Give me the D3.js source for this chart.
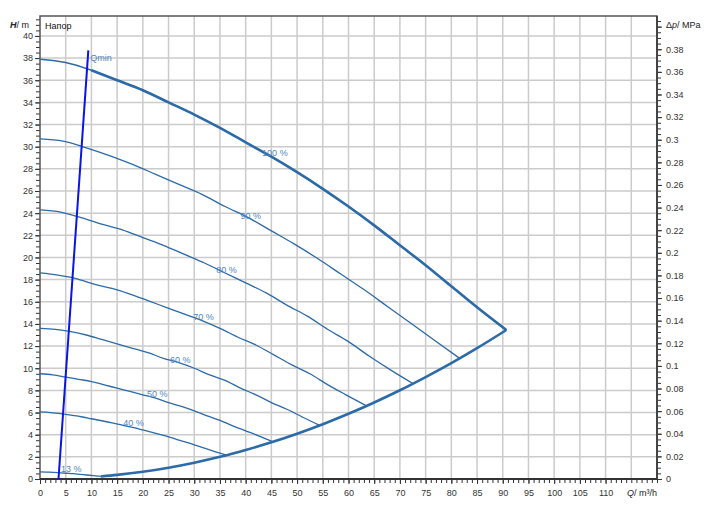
<!DOCTYPE html>
<html>
<head>
<meta charset="utf-8">
<style>
  body { margin: 0; background: #fff; }
  svg { display: block; font-family: "Liberation Sans", Arial, sans-serif; }
</style>
</head>
<body>
<script src="https://cdn.jsdelivr.net/npm/d3@7"></script>
<script>
// pump curves at different speeds, [Q m3/h, H m]
const curve100 = [[0,37.9],[5,37.6],[10,36.9],[15,36.0],[20,35.1],[25,34.0],[30,32.9],[35,31.7],[40,30.4],[45,29.1],
  [50,27.7],[55,26.2],[60,24.6],[65,22.9],[70,21.1],[75,19.3],[80,17.4],[85,15.5],[90.7,13.45]];
const curve90 = [[0,30.7],[4.5,30.5],[9,29.9],[13.5,29.2],[18,28.4],[22.5,27.5],[27,26.6],[31.5,25.7],[36,24.6],[40.5,23.6],
  [45,22.4],[49.5,21.2],[54,19.9],[58.5,18.5],[63,17.1],[67.5,15.6],[72,14.1],[76.5,12.6],[81.6,10.9]];
const curve80 = [[0,24.3],[4,24.1],[8,23.6],[12,23.0],[16,22.5],[20,21.8],[24,21.1],[28,20.3],[32,19.5],[36,18.6],
  [40,17.7],[44,16.8],[48,15.7],[52,14.7],[56,13.5],[60,12.4],[64,11.1],[68,9.9],[72.6,8.6]];
const curve70 = [[0,18.6],[3.5,18.4],[7,18.1],[10.5,17.6],[14,17.2],[17.5,16.7],[21,16.1],[24.5,15.5],[28,14.9],[31.5,14.3],
  [35,13.6],[38.5,12.8],[42,12.1],[45.5,11.2],[49,10.3],[52.5,9.5],[56,8.5],[59.5,7.6],[63.5,6.6]];
const curve60 = [[0,13.6],[3,13.5],[6,13.3],[9,13.0],[12,12.6],[15,12.2],[18,11.8],[21,11.4],[24,10.9],[27,10.5],
  [30,10.0],[33,9.4],[36,8.9],[39,8.2],[42,7.6],[45,6.9],[48,6.3],[51,5.6],[54.4,4.84]];
const curve50 = [[0,9.5],[2.5,9.4],[5,9.2],[7.5,9.0],[10,8.8],[12.5,8.5],[15,8.2],[17.5,7.9],[20,7.6],[22.5,7.3],
  [25,6.9],[27.5,6.55],[30,6.15],[32.5,5.7],[35,5.3],[37.5,4.8],[40,4.35],[42.5,3.9],[45.3,3.36]];
const curve40 = [[0,6.06],[2,6.0],[4,5.9],[6,5.76],[8,5.62],[10,5.44],[12,5.26],[14,5.07],[16,4.86],[18,4.66],
  [20,4.43],[22,4.19],[24,3.94],[26,3.66],[28,3.38],[30,3.09],[32,2.78],[34,2.48],[36.3,2.15]];
const curve13 = [[0,0.64],[1.3,0.62],[2.6,0.6],[3.9,0.56],[5.2,0.52],[6.5,0.48],[7.8,0.42],[9.1,0.36],[10.4,0.3],[11.8,0.23]];
// lower limit curve
const limitCurve = [[11.8,0.23],[15,0.37],[20,0.65],[25,1.02],[30,1.47],[35,2.0],[40,2.62],[45,3.31],[50,4.09],
  [55,4.95],[60,5.89],[65,6.91],[70,8.01],[75,9.2],[80,10.46],[85,11.81],[90.7,13.45]];
const qminLine = [[3.6,0],[9.4,38.7]];

const speedCurves = [curve90, curve80, curve70, curve60, curve50, curve40, curve13];
const curveLabels = ['100 %','90 %','80 %','70 %','60 %','50 %','40 %','13 %'];
const labelQ = [43.2, 39, 34.3, 29.8, 25.3, 20.8, 16.2, 4.1];
const labelH = [29.4, 23.8, 18.9, 14.6, 10.8, 7.7, 5.1, 0.9];

const xTicks = d3.range(0, 115, 5);
const yTicks = d3.range(0, 41, 2);
const pTicks = d3.range(0, 0.39, 0.02);

const W = 714, H = 513;
const margin = { left: 40, top: 16, right: 57, bottom: 34 };
const w = W - margin.left - margin.right;
const h = H - margin.top - margin.bottom;

const svg = d3.select('body').append('svg').attr('width', W).attr('height', H);
const g = svg.append('g').attr('transform', `translate(${margin.left},${margin.top})`);

const x = d3.scaleLinear().domain([0, 120]).range([0, w]);
const y = d3.scaleLinear().domain([0, 41.8]).range([h, 0]);
const yp = d3.scaleLinear().domain([0, 41.8 / 102.1]).range([h, 0]);

// grid
g.append('g').selectAll('line').data(d3.range(5, 120, 5)).join('line')
  .attr('x1', d => x(d)).attr('x2', d => x(d)).attr('y1', 0).attr('y2', h)
  .attr('stroke', '#cbcbcb').attr('stroke-width', 1.5);
g.append('g').selectAll('line').data(d3.range(2, 41, 2)).join('line')
  .attr('y1', d => y(d)).attr('y2', d => y(d)).attr('x1', 0).attr('x2', w)
  .attr('stroke', '#cbcbcb').attr('stroke-width', 1.5);

// axes
function styleAxis(sel) {
  sel.select('.domain').remove();
  sel.selectAll('line').attr('stroke', '#333');
  sel.selectAll('text').attr('fill', '#333').style('font-size', '9px');
}
g.append('g').attr('transform', `translate(0,${h})`)
  .call(d3.axisBottom(x).tickValues(d3.range(0, 121, 1)).tickSize(4).tickFormat('')).call(styleAxis);
g.append('g').attr('transform', `translate(0,${h})`)
  .call(d3.axisBottom(x).tickValues(xTicks).tickSize(5).tickPadding(6).tickFormat(d3.format('d'))).call(styleAxis);

g.append('g').call(d3.axisLeft(y).tickValues(d3.range(0, 41.6, 0.5)).tickSize(4).tickFormat('')).call(styleAxis);
g.append('g').call(d3.axisLeft(y).tickValues(yTicks).tickSize(5).tickPadding(2).tickFormat(d3.format('d'))).call(styleAxis);

g.append('g').attr('transform', `translate(${w},0)`)
  .call(d3.axisRight(yp).tickValues(d3.range(0, 0.4051, 0.005)).tickSize(4).tickFormat('')).call(styleAxis);
g.append('g').attr('transform', `translate(${w},0)`)
  .call(d3.axisRight(yp).tickValues(pTicks).tickSize(5).tickPadding(4).tickFormat(d => d === 0 ? '0' : d3.format('.2~f')(d))).call(styleAxis);
g.append('g').attr('transform', `translate(${w},0)`)
  .call(d3.axisRight(yp).tickValues([0.4]).tickSize(5).tickFormat('')).call(styleAxis);

// frame
g.append('path')
  .attr('d', `M0,${h}V0H${w}V${h}`)
  .attr('fill', 'none').attr('stroke', '#555').attr('stroke-width', 1.5);
g.append('line').attr('x1', w).attr('x2', w).attr('y1', 0).attr('y2', h)
  .attr('stroke', '#444').attr('stroke-width', 2);
g.append('line').attr('x1', 0).attr('x2', w).attr('y1', h).attr('y2', h)
  .attr('stroke', '#333').attr('stroke-width', 2);

// axis titles
const title = (tx, ty, parts, anchor) => {
  const t = svg.append('text').attr('x', tx).attr('y', ty).attr('text-anchor', anchor)
    .attr('fill', '#222').style('font-size', '9px');
  parts.forEach(p => t.append('tspan').attr('font-style', p[1] ? 'italic' : null)
    .attr('font-weight', p[2] ? 'bold' : null).text(p[0]));
};
title(margin.left - 11, 28, [['H', true, true], ['/ m', false]], 'end');
title(margin.left + w + 9, 28, [['Δ', false], ['p', true], ['/ MPa', false]], 'start');
title(margin.left + w, margin.top + h + 17, [['Q', true], ['/ m³/h', false]], 'end');
svg.append('text').attr('x', margin.left + 5).attr('y', 29).attr('fill', '#111')
  .style('font-size', '9px').text('Напор');

// curves
const line = d3.line().x(d => x(d[0])).y(d => y(d[1])).curve(d3.curveMonotoneX);
const blue = '#2c6aa8';
speedCurves.forEach(c => {
  g.append('path').attr('d', line(c)).attr('fill', 'none')
    .attr('stroke', blue).attr('stroke-width', 1.3);
});
g.append('path').attr('d', line(curve100)).attr('fill', 'none')
  .attr('stroke', blue).attr('stroke-width', 1.5);
g.append('path').attr('d', line(curve100.filter(d => d[0] >= 10))).attr('fill', 'none')
  .attr('stroke', blue).attr('stroke-width', 2.6);
g.append('path').attr('d', line(limitCurve)).attr('fill', 'none')
  .attr('stroke', blue).attr('stroke-width', 2.6);

g.append('path').attr('d', d3.line().x(d => x(d[0])).y(d => y(d[1]))(qminLine)).attr('fill', 'none')
  .attr('stroke', '#0a14e6').attr('stroke-width', 2);
g.append('text').attr('x', x(qminLine[1][0]) + 2).attr('y', y(38.0)).attr('dy', '0.35em').attr('fill', '#4f86c2')
  .style('font-size', '9px').text('Qmin');

g.append('g').selectAll('text').data(curveLabels).join('text')
  .attr('x', (d, i) => x(labelQ[i])).attr('y', (d, i) => y(labelH[i]))
  .attr('dy', '0.35em').attr('fill', '#4f86c2').style('font-size', '9px')
  .text(d => d);
</script>
</body>
</html>
